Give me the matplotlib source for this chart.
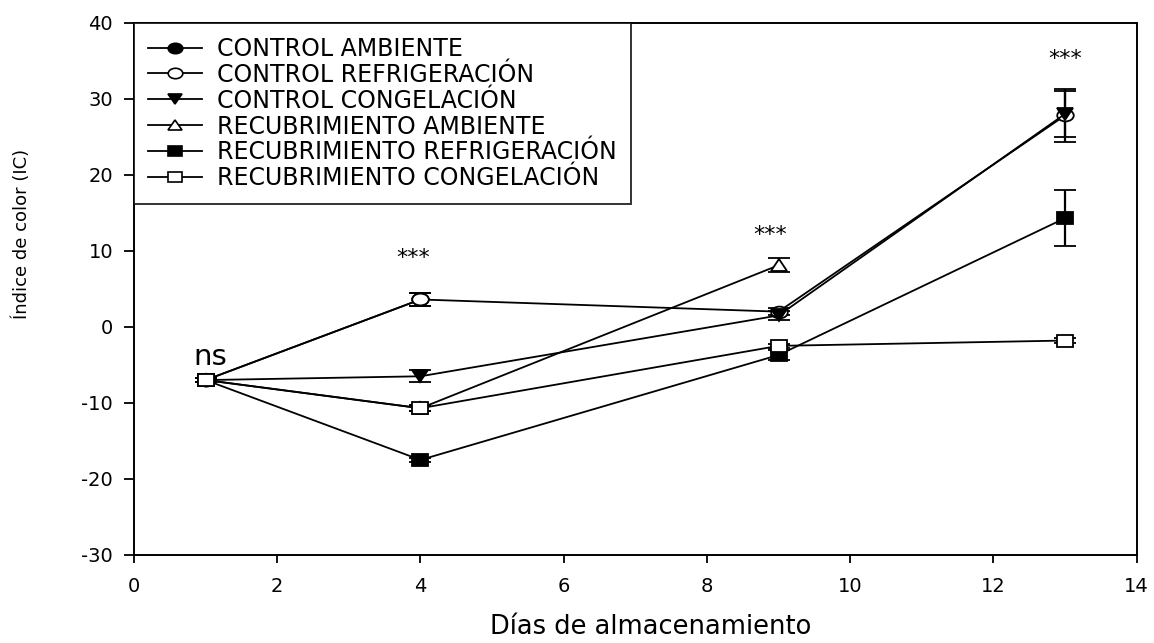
import numpy as np
from matplotlib import pyplot as plt
from matplotlib.markers import MarkerStyle
from matplotlib.transforms import Affine2D

plt.rcParams['font.family'] = ['DejaVu Sans']
plt.rcParams['axes.unicode_minus'] = False

# días de muestreo y medias del índice de color por tratamiento
dias = [1, 4, 9, 13]

control_ambiente = [-7.0, 3.6]
control_ambiente_err = [0.3, 0.9]

control_refrig = [-7.0, 3.6, 2.0, 27.8]
control_refrig_err = [0.3, 0.9, 0.5, 3.5]

control_congel = [-7.0, -6.5, 1.5, 28.0]
control_congel_err = [0.3, 0.8, 0.6, 3.0]

recub_ambiente = [-7.0, -10.7, 8.1]
recub_ambiente_err = [0.3, 0.4, 0.95]

recub_refrig = [-7.0, -17.5, -3.7, 14.3]
recub_refrig_err = [0.3, 0.3, 0.6, 3.7]

recub_congel = [-7.0, -10.7, -2.5, -1.8]
recub_congel_err = [0.3, 0.4, 0.3, 0.3]

series = [
    ('CONTROL AMBIENTE', control_ambiente, control_ambiente_err, 'o', 'black'),
    ('CONTROL REFRIGERACIÓN', control_refrig, control_refrig_err, 'o', 'white'),
    ('CONTROL CONGELACIÓN', control_congel, control_congel_err, 'v', 'black'),
    ('RECUBRIMIENTO AMBIENTE', recub_ambiente, recub_ambiente_err, '^', 'white'),
    ('RECUBRIMIENTO REFRIGERACIÓN', recub_refrig, recub_refrig_err, 's', 'black'),
    ('RECUBRIMIENTO CONGELACIÓN', recub_congel, recub_congel_err, 's', 'white'),
]

# significancia por día
sig_labels = ['ns', '***', '***', '***']
sig_pos = [(1.06, -5.0), (3.9, 9.0), (8.88, 12.1), (13.0, 35.2)]


def wide(mk):
    # marcadores algo más anchos que altos
    return MarkerStyle(mk, transform=Affine2D().scale(1.4, 1.0))


fig = plt.figure(figsize=(11.54, 6.43), dpi=100)
ax = fig.add_axes([0.1161, 0.1369, 0.8689, 0.8278])

handles = []
for label, y, err, mk, fc in series:
    x = dias[:len(y)]
    ax.errorbar(x, y, yerr=err, color='black', lw=1.3, elinewidth=1.6,
                capsize=8, capthick=1.6, marker=wide(mk), markersize=8.5,
                markerfacecolor=fc, markeredgecolor='black', markeredgewidth=1.3)
    h, = ax.plot([], [], color='black', lw=1.3, marker=wide(mk), markersize=7.5,
                 markerfacecolor=fc, markeredgecolor='black', markeredgewidth=1.2)
    handles.append((h, label))

for txt, (xs, ys) in zip(sig_labels, sig_pos):
    if txt == 'ns':
        ax.text(xs, ys, txt, fontsize=21, ha='center', va='baseline')
    else:
        ax.text(xs, ys, txt, fontsize=16, ha='center', va='center')

ax.set_xlim(0, 14)
ax.set_ylim(-30, 40)
ax.set_xticks(np.arange(0, 15, 2))
ax.set_yticks(np.arange(-30, 41, 10))
ax.tick_params(axis='y', direction='out', length=7, width=1.3, labelsize=14, pad=8)
ax.tick_params(axis='x', direction='out', length=6, width=1.3, labelsize=14, pad=10)
for s in ax.spines.values():
    s.set_linewidth(1.4)

ax.set_xlabel('Días de almacenamiento', fontsize=18.5)
ax.xaxis.set_label_coords(0.515, -0.11)
ax.set_ylabel('Índice de color (IC)', fontsize=13)
ax.yaxis.set_label_coords(-0.103, 0.603)

leg = ax.legend([h for h, _ in handles], [l for _, l in handles],
                loc='upper left', bbox_to_anchor=(0, 1), fontsize=17,
                frameon=True, fancybox=False, edgecolor='black',
                handlelength=2.3, handletextpad=0.6, labelspacing=0.08,
                borderpad=0.6, borderaxespad=0)
leg.get_frame().set_linewidth(1.4)

fig.savefig('out.png', dpi=100)
